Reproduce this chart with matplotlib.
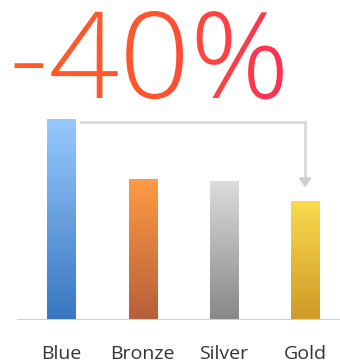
import numpy as np
import matplotlib
matplotlib.use("Agg")
import matplotlib.pyplot as plt
from matplotlib.colors import LinearSegmentedColormap
from matplotlib.textpath import TextPath
from matplotlib.patches import PathPatch
from matplotlib.font_manager import FontProperties
from matplotlib.transforms import Affine2D

# data
names = ["Blue", "Bronze", "Silver", "Gold"]
values = [100, 70, 69, 59]
top_colors = ["#97c9ff", "#ff9b45", "#dcdcdc", "#f9da4c"]
bottom_colors = ["#3876c0", "#b65e3a", "#878787", "#cf9a28"]
headline = "-40%"

fig = plt.figure(figsize=(3.4, 3.64), dpi=100)
ax = fig.add_axes([0.05, 0.1209, 0.95, 0.577])
ax.set_xlim(-0.548, 3.43)
ax.set_ylim(0, 104.5)

w = 0.345
x = np.arange(len(values))
bars = ax.bar(x, values, width=w, color="none", edgecolor="none")
grad = np.linspace(1, 0, 256).reshape(-1, 1)
for i, b in enumerate(bars):
    cm = LinearSegmentedColormap.from_list("g%d" % i, [bottom_colors[i], top_colors[i]])
    im = ax.imshow(grad, cmap=cm, aspect="auto", extent=[x[i]-w/2, x[i]+w/2, 0, values[i]],
                   origin="upper", zorder=2)
    im.set_clip_path(b)

ax.axhline(0, color="#cfcfcf", lw=2.2, zorder=3)

# arrow from blue to gold
ax.plot([0.24, x[-1], x[-1]], [values[0]-1.5, values[0]-1.5, values[-1]+10],
        color="#d6d6d6", lw=1.8, zorder=1, solid_joinstyle="miter")
ax.annotate("", xy=(x[-1], values[-1]+5.5), xytext=(x[-1], values[-1]+11),
            arrowprops=dict(arrowstyle="-|>,head_width=0.35,head_length=0.5",
                            color="#d0d0d0", lw=1.8))

ax.set_xticks(x)
ax.set_xticklabels(names, fontsize=14, color="#333333", family=["Open Sans", "DejaVu Sans"])
ax.tick_params(axis="x", length=0, pad=18)
ax.set_yticks([])
for s in ax.spines.values():
    s.set_visible(False)

# gradient headline
tax = fig.add_axes([0, 0, 1, 1], zorder=5)
tax.set_xlim(0, 340)
tax.set_ylim(0, 364)
tax.axis("off")
fp = FontProperties(family="Open Sans", weight="light")
tp = TextPath((0, 0), headline, size=120, prop=fp)
patch = PathPatch(tp, transform=Affine2D().scale(1.03, 1).translate(9, 266) + tax.transData,
                  facecolor="none", edgecolor="none")
tax.add_patch(patch)
hgrad = np.linspace(0, 1, 256).reshape(1, -1)
hcm = LinearSegmentedColormap.from_list("h", ["#ff5e22", "#ff5530", "#ff2c58"])
him = tax.imshow(hgrad, cmap=hcm, aspect="auto", extent=[8, 295, 250, 364])
him.set_clip_path(patch)
tax.set_xlim(0, 340)
tax.set_ylim(0, 364)

fig.savefig("out.png", dpi=100)
